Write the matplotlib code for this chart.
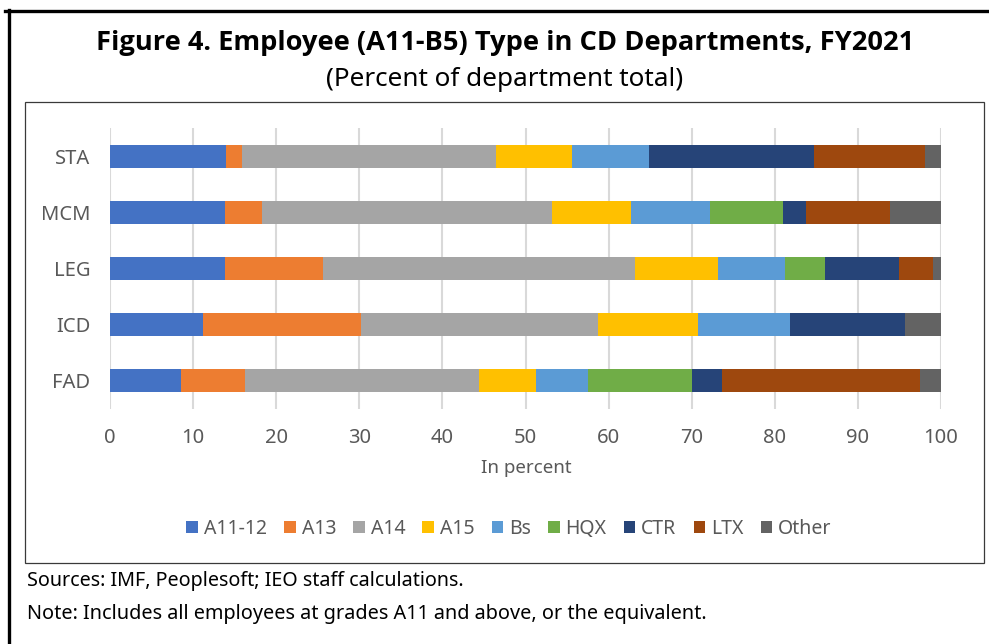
import matplotlib
matplotlib.use("Agg")
import matplotlib.pyplot as plt
from matplotlib.patches import Rectangle, Patch
from matplotlib.lines import Line2D
import numpy as np

plt.rcParams['font.family'] = ['Noto Sans', 'DejaVu Sans']

departments = ["FAD", "ICD", "LEG", "MCM", "STA"]
series_names = ["A11-12", "A13", "A14", "A15", "Bs", "HQX", "CTR", "LTX", "Other"]
a11_12 = [8.5, 11.2, 13.8, 13.8, 14.0]
a13 = [7.8, 19.0, 11.8, 4.5, 1.9]
a14 = [28.1, 28.5, 37.6, 34.9, 30.5]
a15 = [6.9, 12.0, 10.0, 9.5, 9.2]
bs = [6.2, 11.1, 8.0, 9.5, 9.3]
hqx = [12.5, 0.0, 4.9, 8.8, 0.0]
ctr = [3.7, 13.9, 8.8, 2.7, 19.8]
ltx = [23.8, 0.0, 4.1, 10.2, 13.4]
other = [2.5, 4.3, 1.0, 6.1, 1.9]
x_ticks = [0, 10, 20, 30, 40, 50, 60, 70, 80, 90, 100]

series_values = [a11_12, a13, a14, a15, bs, hqx, ctr, ltx, other]
colors = ["#4472C4", "#ED7D31", "#A5A5A5", "#FFC000", "#5B9BD5",
          "#70AD47", "#264478", "#9E480E", "#636363"]

W, H = 989, 644
fig = plt.figure(figsize=(W / 100, H / 100), dpi=100)

def fx(px):
    return px / W

def fy(py):
    return 1 - py / H

# outer frame (top + left thick lines)
fig.add_artist(Line2D([fx(5), fx(989)], [fy(10.5), fy(10.5)], color="black", lw=2.4,
                      transform=fig.transFigure))
fig.add_artist(Line2D([fx(9), fx(9)], [fy(9.5), fy(644)], color="black", lw=2.4,
                      transform=fig.transFigure))
# inner chart box
fig.add_artist(Rectangle((fx(25), fy(563)), fx(984) - fx(25), fy(102) - fy(563),
                         fill=False, edgecolor="#3a3a3a", lw=0.9,
                         transform=fig.transFigure))

ax = fig.add_axes([fx(110), fy(409), fx(941) - fx(110), fy(128) - fy(409)])
y = np.arange(len(departments))
left = np.zeros(len(departments))
for name, vals, c in zip(series_names, series_values, colors):
    vals = np.array(vals)
    ax.barh(y, vals, left=left, height=0.41, color=c, label=name, zorder=3)
    left += vals

ax.set_xlim(0, 100)
ax.set_ylim(-0.5, len(departments) - 0.5)
ax.set_xticks(x_ticks)
ax.set_yticks(y)
ax.set_yticklabels(departments)
ax.grid(axis="x", color="#D9D9D9", lw=1.5, zorder=0)
ax.grid(axis="y", visible=False)
for s in ax.spines.values():
    s.set_visible(False)
ax.tick_params(axis="x", length=0, pad=14, labelsize=14.5, labelcolor="#595959")
ax.tick_params(axis="y", length=0, pad=14, labelsize=14.5, labelcolor="#595959")

fig.text(fx(526), fy(468), "In percent", ha="center", va="center", fontsize=13.5,
         color="#595959")

handles = [Patch(facecolor=c, edgecolor="none", label=n) for n, c in zip(series_names, colors)]
fig.legend(handles=handles, loc="center", bbox_to_anchor=(fx(509), fy(529)), ncol=9,
           frameon=False, fontsize=14, handlelength=0.6, handleheight=0.6,
           handletextpad=0.3, columnspacing=0.88, labelcolor="#595959")

fig.text(fx(505), fy(43), "Figure 4. Employee (A11-B5) Type in CD Departments, FY2021",
         ha="center", va="center", fontsize=19.6, fontweight="bold", color="black",
         family=["Open Sans", "DejaVu Sans"])
fig.text(fx(505), fy(79), "(Percent of department total)", ha="center", va="center",
         fontsize=18.8, color="black")

fig.text(fx(27), fy(581), "Sources: IMF, Peoplesoft; IEO staff calculations.",
         ha="left", va="center", fontsize=14.2, color="black")
fig.text(fx(27), fy(614), "Note: Includes all employees at grades A11 and above, or the equivalent.",
         ha="left", va="center", fontsize=14.3, color="black")

fig.savefig("out.png", dpi=100)
